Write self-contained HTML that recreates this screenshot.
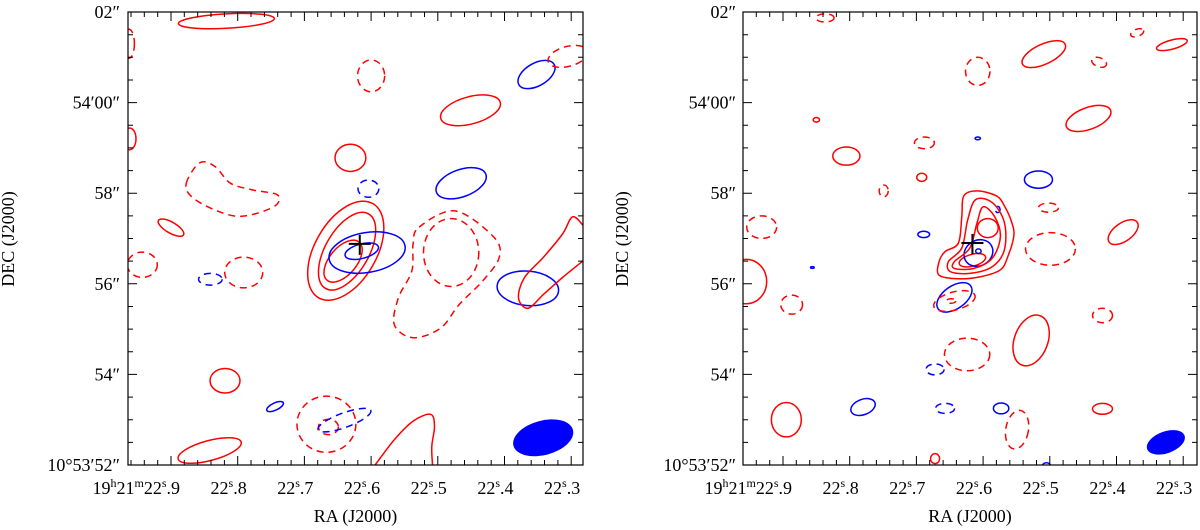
<!DOCTYPE html>
<html><head><meta charset="utf-8"><style>
html,body{margin:0;padding:0;background:#fff;}
svg{display:block;font-family:"Liberation Serif",serif;}
</style></head><body>
<svg id="chart" width="1200" height="530" viewBox="0 0 1200 530" xmlns="http://www.w3.org/2000/svg"></svg>
<script>
// ---- data ----
const raTicks=[22.9,22.8,22.7,22.6,22.5,22.4,22.3];
const raTickLabels=["9","8","7","6","5","4","3"];
const decTicks=[0,2,4,6,8,10];
const decTickLabels=["10°53′52″","54″","56″","58″","54′00″","02″"];
// ellipses: [ra, decOffset(arcsec), a(arcsec), b(arcsec), angleDeg, color, dashed]
const leftEllipses=[
[22.817,9.80,1.06,0.16,-3,"r",0],[22.963,9.3,0.12,0.32,0,"r",1],[22.962,7.2,0.14,0.24,0,"r",0],
[22.600,8.59,0.30,0.35,0,"r",1],[22.352,8.62,0.45,0.25,-30,"b",0],[22.305,9.02,0.45,0.22,-15,"r",1],
[22.451,7.83,0.68,0.30,-15,"r",0],[22.631,6.78,0.34,0.30,0,"r",0],[22.604,6.10,0.23,0.19,0,"b",1],
[22.465,6.22,0.58,0.30,-20,"b",0],[22.900,5.24,0.32,0.12,30,"r",0],[22.943,4.42,0.33,0.28,0,"r",1],
[22.791,4.25,0.42,0.34,0,"r",1],[22.841,4.10,0.26,0.13,0,"b",1],
[22.638,4.73,1.20,0.68,-60,"r",0],[22.636,4.72,0.95,0.48,-60,"r",0],[22.642,4.50,0.55,0.30,-50,"r",0],
[22.606,4.69,0.85,0.44,-10,"b",0],[22.614,4.72,0.38,0.16,-15,"b",0],
[22.480,4.69,0.61,0.75,0,"r",1],[22.365,3.90,0.68,0.38,5,"b",0],
[22.819,1.86,0.33,0.27,0,"r",0],[22.744,1.29,0.20,0.08,-25,"b",0],
[22.667,0.90,0.65,0.62,0,"r",1],[22.664,0.84,0.22,0.17,0,"r",1],[22.640,0.99,0.62,0.16,-20,"b",1],
[22.842,0.32,0.72,0.22,-15,"r",0]
];
const leftShapes=[
{c:"r",d:1,closed:1,pts:[[22.877,6.22],[22.857,6.67],[22.834,6.59],[22.811,6.22],[22.777,6.07],[22.740,5.96],[22.746,5.70],[22.794,5.49],[22.834,5.63],[22.869,5.92]]},
{c:"r",d:1,closed:1,pts:[[22.528,5.25],[22.474,5.61],[22.416,5.03],[22.408,4.58],[22.433,4.06],[22.468,3.54],[22.496,3.02],[22.537,2.81],[22.565,3.09],[22.559,3.69],[22.539,4.28],[22.537,4.88]]},
{c:"r",d:0,closed:0,pts:[[22.282,5.29],[22.298,5.48],[22.313,5.10],[22.342,4.58],[22.370,4.14],[22.379,3.69],[22.365,3.46],[22.342,3.76],[22.313,4.14],[22.282,4.51]]},
{c:"r",d:0,closed:0,pts:[[22.594,0],[22.565,0.56],[22.537,0.97],[22.511,1.12],[22.505,0.86],[22.509,0.41],[22.508,0]]}
];
const leftBeam=[22.342,0.60,0.68,0.38,-15];
const leftCross=[22.617,4.88];
const rightEllipses=[
[22.837,9.87,0.20,0.09,0,"r",1],[22.369,9.54,0.15,0.08,-20,"r",1],[22.317,9.28,0.35,0.10,-15,"r",0],
[22.509,9.07,0.52,0.22,-25,"r",0],[22.426,8.89,0.17,0.10,20,"r",1],[22.608,8.69,0.27,0.31,0,"r",1],
[22.442,7.65,0.52,0.24,-20,"r",0],[22.850,7.62,0.07,0.05,0,"r",0],[22.608,7.21,0.06,0.03,0,"b",0],
[22.688,7.11,0.22,0.13,0,"r",1],[22.805,6.82,0.30,0.20,0,"r",0],[22.692,6.35,0.11,0.09,0,"r",0],
[22.517,6.30,0.31,0.19,0,"b",0],[22.749,6.05,0.10,0.13,0,"r",1],[22.502,5.68,0.22,0.10,0,"r",1],
[22.578,5.64,0.05,0.07,0,"b",1],[22.932,5.25,0.33,0.25,0,"r",1],[22.689,5.09,0.13,0.07,0,"b",0],
[22.390,5.14,0.38,0.20,-35,"r",0],[22.499,4.77,0.55,0.36,0,"r",1],[22.856,4.36,0.04,0.02,0,"b",0],
[22.616,4.52,0.30,0.13,-15,"r",0],[22.593,5.23,0.23,0.21,0,"r",0],
[22.607,4.68,0.33,0.28,-30,"b",0],[22.607,4.72,0.06,0.05,0,"b",0],
[22.955,4.05,0.45,0.49,0,"r",0],[22.887,3.54,0.24,0.21,0,"r",1],
[22.643,3.70,0.44,0.25,-35,"b",0],[22.643,3.62,0.47,0.20,-15,"r",1],[22.648,3.62,0.10,0.05,0,"r",1],
[22.421,3.30,0.22,0.16,0,"r",1],[22.528,2.75,0.37,0.58,20,"r",0],[22.624,2.44,0.50,0.36,0,"r",1],
[22.672,2.11,0.20,0.12,0,"b",1],[22.780,1.28,0.28,0.17,-20,"b",0],[22.657,1.25,0.21,0.11,0,"b",1],
[22.573,1.25,0.17,0.12,0,"b",0],[22.549,0.78,0.25,0.43,10,"r",1],[22.421,1.24,0.22,0.12,0,"r",0],
[22.895,1.00,0.33,0.38,0,"r",0],[22.672,0.14,0.10,0.11,0,"r",0],[22.505,0.0,0.08,0.05,0,"b",0]
];
const rightShapes=[
{c:"r",d:0,closed:1,pts:[[22.666,4.49],[22.657,4.71],[22.637,4.90],[22.632,5.49],[22.629,5.94],[22.609,6.05],[22.580,5.94],[22.568,5.72],[22.557,5.35],[22.554,5.05],[22.563,4.60],[22.574,4.31],[22.603,4.16],[22.637,4.11],[22.666,4.19]]},
{c:"r",d:0,closed:1,pts:[[22.652,4.49],[22.632,4.79],[22.623,5.42],[22.611,5.86],[22.586,5.79],[22.568,5.35],[22.568,4.75],[22.586,4.38],[22.620,4.23],[22.649,4.27]]},
{c:"r",d:0,closed:1,pts:[[22.643,4.49],[22.620,4.79],[22.609,5.35],[22.600,5.70],[22.583,5.49],[22.574,5.05],[22.586,4.57],[22.614,4.34],[22.643,4.34]]}
];
const rightBeam=[22.326,0.50,0.44,0.24,-20];
const rightCross=[22.616,4.90];

// ---- drawing ----
const NS="http://www.w3.org/2000/svg";
const svg=document.getElementById('chart');
const PX=45.3, TOP=12, BOT=465;
const COL={r:"#ff0000",b:"#0000ff"};
function mk(tag,attrs,parent){const e=document.createElementNS(NS,tag);for(const k in attrs)e.setAttribute(k,attrs[k]);(parent||svg).appendChild(e);return e;}
function smooth(p,closed){
  const n=p.length;let d="M"+p[0][0].toFixed(1)+","+p[0][1].toFixed(1);
  const last=closed?n:n-1;
  for(let i=0;i<last;i++){
    const p0=p[(i-1+n)%n],p1=p[i],p2=p[(i+1)%n],p3=p[(i+2)%n];
    const a=(!closed&&i===0)?p1:p0, b=(!closed&&i+2>=n)?p2:p3;
    const c1=[p1[0]+(p2[0]-a[0])/6,p1[1]+(p2[1]-a[1])/6],c2=[p2[0]-(b[0]-p1[0])/6,p2[1]-(b[1]-p1[1])/6];
    d+="C"+c1.join(",")+" "+c2.join(",")+" "+p2.join(",");
  }
  return d+(closed?"Z":"");
}
function panel(id,left,right,x229,ells,shapes,beam,cross,decLabelX,decTitleX){
  const xs=ra=>x229+(22.9-ra)*667, ys=d=>BOT-d*PX;
  const g=mk('g',{});
  
  
  const cp=mk('clipPath',{id:id+'-clip'},g);mk('rect',{x:left,y:TOP,width:right-left,height:BOT-TOP},cp);
  const plot=mk('g',{'clip-path':'url(#'+id+'-clip)'},g);
  
  
  const be=mk('ellipse',{cx:xs(beam[0]),cy:ys(beam[1]),rx:beam[2]*PX,ry:beam[3]*PX,fill:"#0000ff",transform:`rotate(${beam[4]} ${xs(beam[0])} ${ys(beam[1])})`},plot);
  
  
  ells.forEach(e=>{
    const cx=xs(e[0]),cy=ys(e[1]);
    const el=mk('ellipse',{cx:cx,cy:cy,rx:e[2]*PX,ry:e[3]*PX,fill:"none",stroke:COL[e[5]],'stroke-width':1.5,transform:`rotate(${e[4]} ${cx} ${cy})`},plot);
    if(e[6])el.setAttribute('stroke-dasharray','7,5');
    
    
  });
  shapes.forEach(s=>{
    const pts=s.pts.map(p=>[+xs(p[0]).toFixed(1),+ys(p[1]).toFixed(1)]);
    const el=mk('path',{d:smooth(pts,s.closed),fill:"none",stroke:COL[s.c],'stroke-width':1.5},plot);
    if(s.d)el.setAttribute('stroke-dasharray','7,5');
    
    
  });
  const cx=xs(cross[0]),cy=ys(cross[1]);
  const cr=mk('path',{d:`M${cx-11},${cy}H${cx+11}M${cx},${cy-9}V${cy+11}`,stroke:"#000",'stroke-width':2,fill:"none"},plot);
  
  
  const fr=mk('rect',{x:left,y:TOP,width:right-left,height:BOT-TOP,fill:"none",stroke:"#000",'stroke-width':1.2},g);
  
  
  let td="";
  for(let i=0;i<=40;i++){const ra=22.98-i*0.02;const x=xs(ra);if(x<left+1||x>right-1)continue;
    const major=Math.abs(Math.round(ra*10)/10-ra)<1e-6;const L=major?9:5;
    td+=`M${x.toFixed(1)},${BOT}v${-L}M${x.toFixed(1)},${TOP}v${L}`;}
  for(let k=0;k<=20;k++){const d=k*0.5,y=ys(d);const L=(k%4===0)?9:5;
    td+=`M${left},${y.toFixed(1)}h${L}M${right},${y.toFixed(1)}h${-L}`;}
  const tk=mk('path',{d:td,stroke:"#000",'stroke-width':1,fill:"none"},g);
  
  
  raTicks.forEach((ra,i)=>{
    const x=xs(ra);
    const t=mk('text',{x:x,y:494,'font-size':18,'text-anchor':'end'},g);
    if(i===0){t.innerHTML='19<tspan dy="-7" font-size="12">h</tspan><tspan dy="7">21</tspan><tspan dy="-7" font-size="12">m</tspan><tspan dy="7">22</tspan><tspan dy="-7" font-size="12">s</tspan><tspan dy="7">.</tspan>';}
    else t.innerHTML='22<tspan dy="-7" font-size="12">s</tspan><tspan dy="7">.</tspan>';
    
    
    const t2=mk('text',{x:x,y:494,'font-size':18},g);t2.textContent=raTickLabels[i];
    
    
  });
  decTicks.forEach((d,i)=>{
    const t=mk('text',{x:decLabelX,y:ys(d)+6,'font-size':18,'text-anchor':'end'},g);
    t.textContent=decTickLabels[i];
    
    
  });
  const rt=mk('text',{x:(left+right)/2,y:522,'font-size':18,'text-anchor':'middle'},g);rt.textContent="RA (J2000)";
  
  
  const dt=mk('text',{x:decTitleX,y:239,'font-size':18,'text-anchor':'middle',transform:`rotate(-90 ${decTitleX} 239)`},g);dt.textContent="DEC (J2000)";
  
  
}
panel('left',128,583,171,leftEllipses,leftShapes,leftBeam,leftCross,120,14);
panel('right',743,1197,783,rightEllipses,rightShapes,rightBeam,rightCross,736,628);
</script>
</body></html>
